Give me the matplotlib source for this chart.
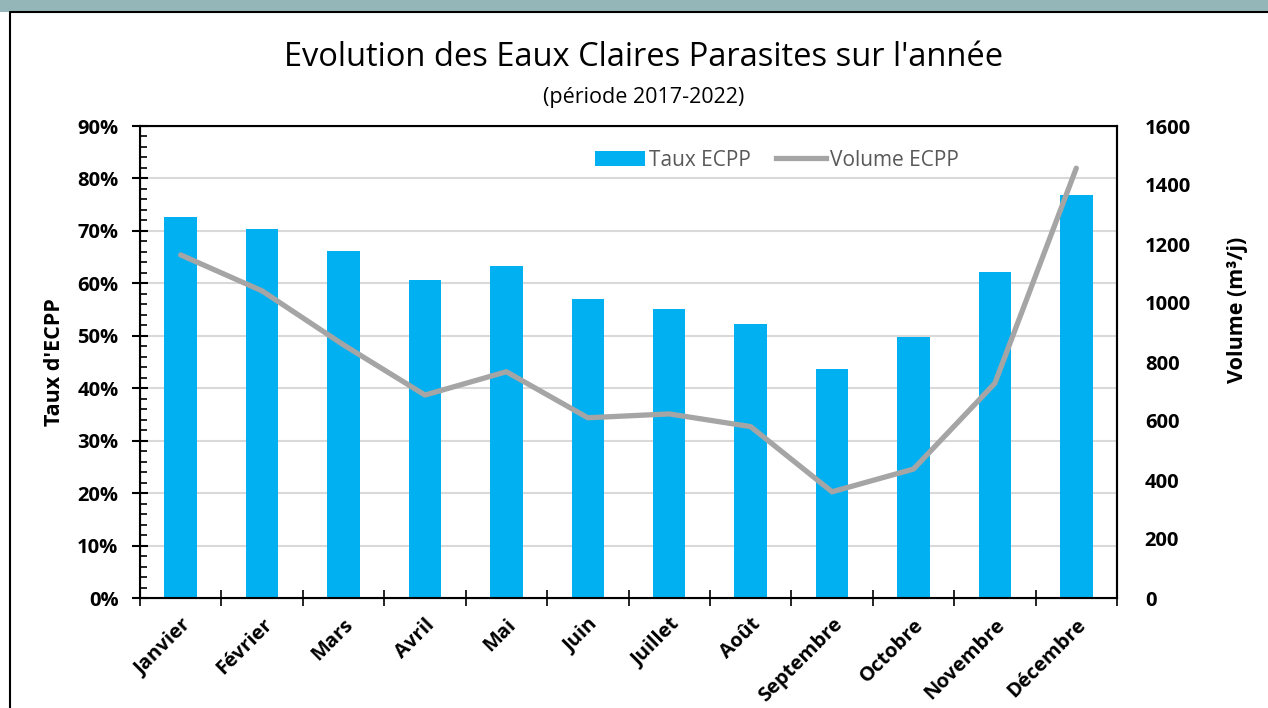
import matplotlib
matplotlib.use('Agg')
from matplotlib import pyplot as plt
from matplotlib.patches import Patch, Rectangle
from matplotlib.lines import Line2D
from matplotlib.ticker import MultipleLocator, FixedLocator, PercentFormatter

plt.rcParams['font.family'] = ['Open Sans', 'DejaVu Sans']

mois = ['Janvier', 'Février', 'Mars', 'Avril', 'Mai', 'Juin', 'Juillet',
        'Août', 'Septembre', 'Octobre', 'Novembre', 'Décembre']
taux_ecpp = [72.6, 70.3, 66.1, 60.6, 63.4, 57.0, 55.2, 52.2, 43.7, 49.7, 62.1, 76.9]  # %
volume_ecpp = [1163, 1041, 858, 688, 767, 611, 624, 581, 360, 437, 728, 1457]  # m3/j

bleu = '#00B0F0'
gris = '#A5A5A5'

fig = plt.figure(figsize=(12.68, 7.08), dpi=100)

# bandeau du haut + bord du cadre
fig.patches.append(Rectangle((0, 1 - 12 / 708), 1, 12 / 708, transform=fig.transFigure,
                             facecolor='#95B6B8', edgecolor='none', zorder=0))
fig.lines.append(Line2D([10 / 1268, 10 / 1268, 1], [0, 1 - 12 / 708, 1 - 12 / 708],
                        transform=fig.transFigure, color='black', lw=1.5))

ax = fig.add_axes([140 / 1268, 110 / 708, 977 / 1268, 472 / 708])
x = list(range(len(mois)))

ax.bar(x, taux_ecpp, width=0.4, color=bleu, zorder=2)
ax.set_xlim(-0.5, 11.5)
ax.set_ylim(0, 90)
ax.yaxis.set_major_locator(MultipleLocator(10))
ax.yaxis.set_minor_locator(MultipleLocator(2))
ax.yaxis.set_major_formatter(PercentFormatter(decimals=0))
ax.grid(axis='y', which='major', color='#D9D9D9', lw=1.5, zorder=0)
ax.set_axisbelow(True)

# ticks x : traits entre les mois, noms au centre
ax.xaxis.set_major_locator(FixedLocator([i - 0.5 for i in range(13)]))
ax.xaxis.set_minor_locator(FixedLocator(x))
ax.set_xticklabels([], minor=False)
ax.set_xticklabels(mois, minor=True, rotation=45, ha='right', rotation_mode='anchor',
                   fontsize=14.5, fontweight='bold')
ax.tick_params(axis='x', which='major', direction='inout', length=11, width=1.2)
ax.tick_params(axis='x', which='minor', length=0, pad=12)
ax.tick_params(axis='y', which='major', direction='inout', length=11, width=1.5,
               labelsize=14.5, pad=10)
ax.tick_params(axis='y', which='minor', direction='in', length=5, width=1.2)
for lab in ax.get_yticklabels():
    lab.set_fontweight('bold')
for s in ['left', 'bottom', 'top', 'right']:
    ax.spines[s].set_linewidth(1.5)
ax.set_ylabel("Taux d'ECPP", fontsize=15.5, fontweight='bold')
ax.yaxis.set_label_coords(-75 / 977, 0.5)

ax2 = ax.twinx()
ax2.plot(x, volume_ecpp, color=gris, lw=3.8, solid_capstyle='round', zorder=3)
ax2.set_ylim(0, 1600)
ax2.yaxis.set_major_locator(MultipleLocator(200))
ax2.tick_params(axis='y', length=0, labelsize=14.5, pad=20)
for lab in ax2.get_yticklabels():
    lab.set_fontweight('bold')
ax2.spines['right'].set_linewidth(1.5)
ax2.set_ylabel('Volume (m³/j)', fontsize=15.5, fontweight='bold')
ax2.yaxis.set_label_coords(1 + 110 / 977, (598 - 310) / 472)

handles = [Patch(facecolor=bleu), Line2D([], [], color=gris, lw=3.8)]
ax2.legend(handles, ['Taux ECPP', 'Volume ECPP'], loc='center', ncol=2,
           bbox_to_anchor=(777 / 1268, 1 - 160 / 708), bbox_transform=fig.transFigure,
           frameon=False, fontsize=15, labelcolor='#595959', handlelength=2.4,
           handletextpad=0.2, columnspacing=1.2)

fig.text(644 / 1268, 1 - 58 / 708, "Evolution des Eaux Claires Parasites sur l'année",
         ha='center', va='center', fontsize=23.5)
fig.text(644 / 1268, 1 - 97 / 708, '(période 2017-2022)', ha='center', va='center',
         fontsize=15.5)

fig.savefig('out.png', dpi=100)
